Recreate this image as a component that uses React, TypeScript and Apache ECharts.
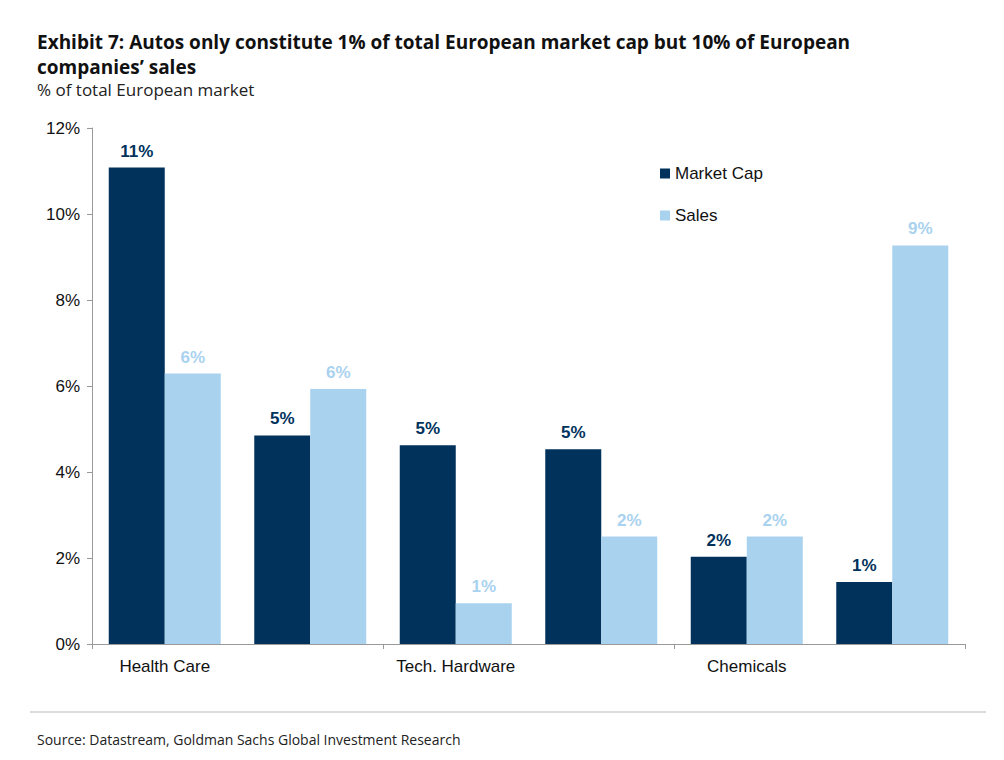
import React, { useEffect, useRef } from 'react';
import * as echarts from 'echarts';

const categories = ['Health Care', 'Utilities', 'Tech. Hardware', 'Aero/Defence', 'Chemicals', 'Autos'];
const marketCap = [11.08, 4.85, 4.62, 4.53, 2.03, 1.44];
const sales = [6.29, 5.93, 0.95, 2.5, 2.5, 9.27];
const marketCapLabels = ['11%', '5%', '5%', '5%', '2%', '1%'];
const salesLabels = ['6%', '6%', '1%', '2%', '2%', '9%'];

const DARK = '#00325B';
const LIGHT = '#A9D2EF';

export default function App() {
  const elRef = useRef<HTMLDivElement | null>(null);

  useEffect(() => {
    if (!elRef.current) return;
    const chart = echarts.init(elRef.current, null, { renderer: 'svg' });
    const font = '"Liberation Sans", Arial, sans-serif';
    chart.setOption({
      animation: false,
      textStyle: { fontFamily: font },
      title: [
        {
          text: 'Exhibit 7: Autos only constitute 1% of total European market cap but 10% of European\ncompanies’ sales',
          left: 24,
          top: 16,
          textStyle: { fontFamily: '"Open Sans", sans-serif', fontSize: 19, fontWeight: 'bold', color: '#111', lineHeight: 25 },
        },
        {
          text: '% of total European market',
          left: 24,
          top: 68,
          textStyle: { fontFamily: '"Open Sans", sans-serif', fontSize: 17, fontWeight: 'normal', color: '#222' },
        },
        {
          text: 'Source: Datastream, Goldman Sachs Global Investment Research',
          left: 24,
          top: 719,
          textStyle: { fontFamily: '"Open Sans", sans-serif', fontSize: 14, fontWeight: 'normal', color: '#222' },
        },
      ],
      graphic: [
        { type: 'line', shape: { x1: 22, y1: 704, x2: 978, y2: 704 }, style: { stroke: '#bbb', lineWidth: 1 } },
      ],
      legend: {
        orient: 'vertical',
        left: 647,
        top: 152,
        itemGap: 25,
        itemWidth: 10,
        itemHeight: 10,
        icon: 'rect',
        textStyle: { fontSize: 17, color: '#111', fontFamily: font },
        data: ['Market Cap', 'Sales'],
      },
      grid: { left: 84, right: 31, top: 120, bottom: 108 },
      xAxis: {
        type: 'category',
        data: categories,
        axisLine: { lineStyle: { color: '#999' } },
        axisTick: { show: true, length: 5, lineStyle: { color: '#999' } },
        axisLabel: { fontSize: 17, color: '#111', margin: 14 },
      },
      yAxis: {
        type: 'value',
        min: 0,
        max: 12,
        interval: 2,
        axisLine: { show: true, lineStyle: { color: '#999' } },
        axisTick: { show: true, length: 5, lineStyle: { color: '#999' } },
        splitLine: { show: false },
        axisLabel: { fontSize: 17, color: '#111', margin: 12, formatter: (v: number) => `${v}%` },
      },
      series: [
        {
          name: 'Market Cap',
          type: 'bar',
          data: marketCap,
          barWidth: 56,
          barGap: '0%',
          itemStyle: { color: DARK },
          label: {
            show: true,
            position: 'top',
            distance: 8,
            fontSize: 17,
            fontWeight: 'bold',
            color: DARK,
            formatter: (p: any) => marketCapLabels[p.dataIndex],
          },
        },
        {
          name: 'Sales',
          type: 'bar',
          data: sales,
          barWidth: 56,
          barGap: '0%',
          itemStyle: { color: LIGHT },
          label: {
            show: true,
            position: 'top',
            distance: 8,
            fontSize: 17,
            fontWeight: 'bold',
            color: LIGHT,
            formatter: (p: any) => salesLabels[p.dataIndex],
          },
        },
      ],
    });
    return () => chart.dispose();
  }, []);

  return <div ref={elRef} style={{ width: 988, height: 744, background: '#fff' }} />;
}
